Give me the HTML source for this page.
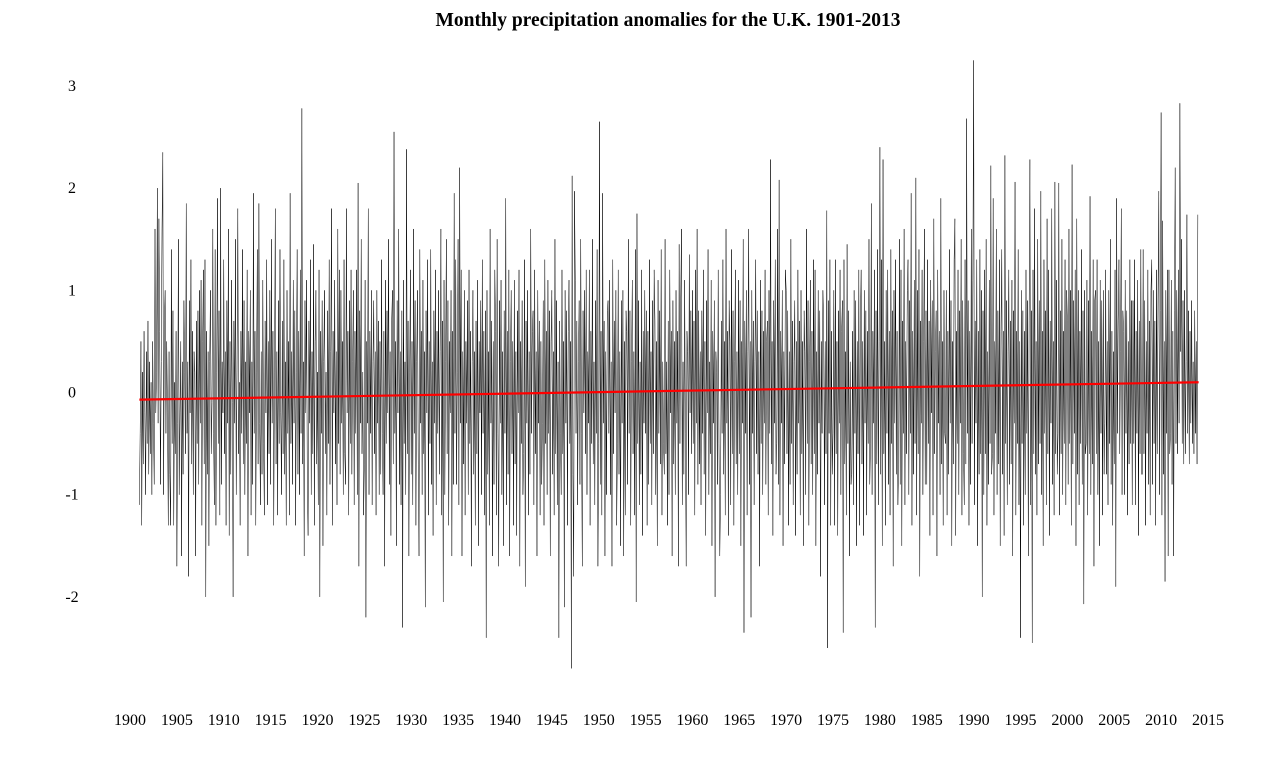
<!DOCTYPE html>
<html><head><meta charset="utf-8">
<style>
html,body{margin:0;padding:0;background:#fff;}
svg{display:block;font-family:"Liberation Serif",serif;}
</style></head>
<body>
<svg id="chart" width="1280" height="767" viewBox="0 0 1280 767" xmlns="http://www.w3.org/2000/svg">
<text x="668" y="26" text-anchor="middle" font-size="19.5" font-weight="bold">Monthly precipitation anomalies for the U.K. 1901-2013</text>
<g id="yaxis"></g>
<g id="xaxis"></g>
<path id="series" fill="none" stroke="#000" stroke-width="0.5"/>
<line id="trend" stroke="#f00" stroke-width="2.2"/>
</svg>
<script>
const startYear = 1901;
const yTicks = [-2,-1,0,1,2,3];
const xTicks = [1900,1905,1910,1915,1920,1925,1930,1935,1940,1945,1950,1955,1960,1965,1970,1975,1980,1985,1990,1995,2000,2005,2010,2015];
const trendYears = [1901, 2014];
const trendValues = [-0.07, 0.10];
const anomalies = [
-1.1,-0.4,0.5,-1.3,0.2,-0.7,0.6,-0.2,-1.0,0.4,-0.5,0.7,
-0.8,0.3,-0.6,0.1,-1.0,0.5,-0.3,-0.9,1.6,-0.2,0.2,2.0,
-0.3,1.7,0.6,-0.9,0.3,1.6,2.35,-1.0,0.7,1.0,-0.4,0.5,
-0.2,-1.3,0.4,-0.8,-1.3,1.4,-0.5,0.8,-1.3,0.1,-0.6,0.6,
-1.7,-0.3,1.5,-1.0,-0.2,0.5,-1.6,0.3,-0.8,0.9,0.2,-0.6,
1.85,-0.4,0.3,-1.8,0.9,-0.2,1.3,-0.7,0.6,-1.0,0.4,0.2,
-1.6,0.7,-0.5,0.8,-0.9,1.0,-0.3,1.1,-1.3,0.5,1.2,-0.7,
1.3,-2.0,0.6,-0.8,0.4,-1.5,0.3,1.0,-0.6,-0.1,1.6,-0.4,
-1.1,1.4,-1.3,0.2,1.9,-0.5,0.8,-1.2,2.0,-0.9,0.3,-0.2,
1.3,-0.6,0.4,-1.3,0.9,-0.3,1.6,-1.4,0.5,-0.8,1.1,-0.1,
-2.0,0.7,-0.3,1.5,-1.0,0.2,1.8,-0.6,0.1,-1.3,0.6,-0.4,
1.4,-0.7,0.9,-1.0,0.3,-0.5,1.2,-1.6,0.6,-0.2,1.0,-1.2,
0.3,-0.9,1.95,-0.4,0.6,-1.3,0.2,1.4,-0.7,1.85,-0.3,-1.1,
0.4,-0.8,1.1,-0.5,-1.2,0.7,-0.2,1.3,-1.1,0.5,-0.6,1.0,
-0.9,1.5,-0.3,0.6,-1.3,0.2,1.8,-0.7,0.4,-1.2,0.9,-0.5,
1.4,-0.2,-1.0,0.7,-0.6,1.3,-0.8,0.3,-1.3,1.0,-0.4,0.5,
-1.2,1.95,-0.5,0.4,-0.9,1.1,-0.3,0.8,-1.3,0.2,1.4,-0.8,
0.6,-1.0,1.2,-0.4,2.78,-0.7,0.3,-1.6,0.9,-0.2,1.1,-0.9,
-1.4,0.7,-0.3,1.3,-1.0,0.4,-0.6,1.45,-1.3,0.5,1.0,-0.7,
0.2,-1.1,1.2,-2.0,0.6,-0.4,0.9,-1.5,0.3,1.0,-0.6,0.2,
-1.2,0.8,-0.5,1.3,-0.9,0.4,1.8,-1.3,0.6,-0.2,1.1,-0.7,
0.4,-1.1,1.6,-0.5,1.2,-0.8,1.0,-0.3,0.5,-1.0,1.3,-0.6,
-0.9,1.8,-0.2,0.6,-1.2,0.9,-0.5,1.2,-0.8,0.3,1.0,-1.1,
0.6,-0.4,1.2,-1.0,2.05,-1.7,0.8,-0.3,1.5,-0.6,0.2,-1.2,
-0.7,1.1,-2.2,0.5,-0.3,1.8,-1.0,0.6,-0.4,1.0,-1.1,0.3,
0.9,-0.6,0.4,-1.2,1.0,-0.3,0.7,-1.0,0.5,-0.8,1.3,-0.4,
-1.0,0.6,-1.7,1.1,-0.5,0.8,-0.2,1.5,-0.9,0.4,-1.4,0.7,
1.0,-0.7,2.55,-0.4,0.5,-1.5,0.9,-0.2,1.6,-0.9,0.4,-1.1,
0.8,-2.3,1.1,-0.5,0.3,-1.0,2.38,-0.6,0.7,-1.6,0.2,1.2,
-0.8,0.5,-1.1,1.6,-0.4,0.9,-1.3,0.3,1.0,-0.7,-1.6,1.4,
-0.3,0.6,-1.0,1.1,-0.6,0.4,-2.1,0.8,-0.2,1.3,-1.2,0.5,
-0.5,1.4,-0.9,0.3,-1.4,0.8,-0.3,1.2,-1.1,0.6,-0.4,1.0,
-0.8,0.4,1.6,-1.2,0.7,-2.05,1.1,-1.0,0.3,1.5,-0.6,0.9,
-1.3,0.5,-0.2,1.0,-1.6,0.6,-0.9,1.95,-0.4,1.3,-0.9,0.2,
1.5,-1.1,2.2,-0.3,1.2,-1.6,0.4,-0.7,1.0,-1.2,0.5,-0.3,
0.9,-1.0,1.2,-0.5,0.6,-1.7,0.3,1.0,-0.8,0.4,-1.3,0.7,
-0.6,1.1,-1.5,0.5,-0.2,0.9,-1.0,1.3,-0.4,0.6,-1.2,0.8,
-2.4,1.0,-0.8,0.4,-1.3,1.6,-0.3,0.7,-1.6,0.5,-0.9,1.2,
0.6,-1.2,1.5,-0.4,-1.7,0.9,-0.3,1.1,-1.0,0.4,-1.5,0.8,
-0.4,1.9,-1.1,0.6,-0.8,1.2,-1.6,0.3,1.0,-0.6,0.5,-1.3,
1.1,-0.7,0.4,-1.4,0.8,-0.2,1.2,-1.7,0.5,-0.5,0.9,-1.0,
-0.6,1.3,-1.9,0.7,-0.3,1.0,-1.2,0.4,-0.8,1.6,-0.4,0.6,
0.8,-1.1,1.2,-0.6,0.4,-1.6,1.0,-0.3,0.7,-1.2,0.5,-0.9,
-0.3,0.9,-1.3,1.3,-0.5,0.6,-1.0,1.1,-0.4,0.8,-1.6,0.5,
1.0,-0.8,0.4,-1.2,1.5,-0.6,0.9,-1.1,0.3,-2.4,0.7,-0.4,
-1.0,1.2,-0.6,0.5,-2.1,1.0,-0.3,0.8,-1.3,0.6,1.1,-0.5,
0.5,-2.7,2.12,-0.8,-1.8,1.97,1.1,-0.4,0.7,-1.1,0.3,0.9,
-0.9,1.5,-0.4,-1.7,0.8,-0.2,1.0,-0.6,1.2,-1.0,0.4,-0.3,
1.2,-1.3,0.6,-0.5,1.5,-0.7,0.3,-1.1,0.9,-0.4,1.4,-1.7,
-0.5,2.65,-0.9,0.6,-1.2,1.95,-0.3,0.7,-1.6,0.4,-1.0,0.8,
0.9,-0.4,1.1,-1.0,0.3,-1.7,1.3,-0.6,0.7,-0.2,1.0,-1.3,
-0.5,1.2,-0.8,0.4,-1.5,0.9,-0.3,1.0,-1.6,0.5,-1.2,0.8,
0.6,-0.9,1.5,-0.4,0.8,-1.3,0.3,1.1,-0.6,0.4,-1.2,1.4,
-2.05,1.75,-0.5,0.9,-1.1,0.3,-0.8,1.2,-1.4,0.6,-0.3,1.0,
-0.4,0.8,-1.3,0.6,-0.9,1.3,-0.5,0.4,-1.1,0.9,-0.6,1.2,
0.7,-1.0,0.5,-1.5,1.1,-0.4,0.8,-0.7,1.4,-1.2,0.3,-0.5,
-0.8,1.5,-0.6,0.3,-1.3,0.7,-1.0,1.2,-0.2,0.6,-1.6,0.9,
-0.7,0.5,-1.0,1.0,-0.3,0.6,-1.7,1.45,-0.5,0.9,1.6,-1.1,
0.3,-0.8,1.1,-0.4,-1.7,0.6,0.4,-1.0,1.35,-0.2,0.8,-0.6,
1.0,-0.5,0.7,-1.2,1.2,-0.3,1.6,-0.9,0.8,-0.7,0.4,-1.1,
0.8,-0.4,1.2,-0.8,0.5,-1.4,0.9,-0.2,1.4,-1.0,0.3,-0.6,
1.1,-1.5,0.6,-0.3,0.9,-2.0,0.4,0.2,-0.9,1.2,-0.5,-1.6,
-1.0,0.7,-0.4,1.3,-0.8,0.5,-1.2,1.6,-0.3,0.6,-1.4,0.9,
0.5,-1.1,1.4,-0.6,0.8,-1.3,0.3,1.2,-0.7,0.4,-1.0,1.1,
-0.6,0.9,-1.5,0.5,-0.3,1.5,-2.35,0.7,-0.4,1.0,-1.2,0.4,
1.6,-0.9,0.5,-2.2,1.0,-0.4,0.7,-1.1,0.3,1.3,-0.6,0.8,
-0.8,0.4,-1.7,1.1,-0.5,0.8,-1.0,0.6,-0.3,1.2,-0.9,0.5,
0.7,-1.2,1.0,-0.4,2.28,-0.7,0.5,-1.4,0.9,-0.3,1.3,-0.8,
-0.5,1.6,-0.9,2.08,-1.2,0.6,-0.3,1.0,-1.5,0.4,-0.7,1.2,
1.0,-0.6,0.8,-1.3,0.4,-0.9,1.5,-0.5,0.7,-1.1,0.3,0.9,
-1.4,0.5,-0.8,1.2,-0.3,0.7,-1.2,1.0,-0.6,0.5,-1.5,0.8,
0.4,-1.0,1.6,-0.5,0.9,-1.3,0.3,1.1,-0.7,0.6,-1.0,1.3,
-0.6,1.2,-1.5,0.4,-0.8,1.0,-0.3,0.8,-1.8,0.5,-0.4,1.0,
0.7,-1.1,0.5,-0.6,1.78,-2.5,0.9,-0.4,1.3,-1.3,0.6,-0.8,
-0.4,1.0,-1.3,1.3,-0.6,0.5,-1.4,0.8,-0.3,1.2,-1.0,0.6,
0.9,-2.35,1.3,-0.7,0.4,-1.2,1.45,-0.5,0.8,-1.6,0.3,-0.9,
-0.8,0.6,-1.1,1.0,-0.4,0.9,-1.5,0.5,-0.6,1.2,-1.3,0.7,
1.2,-0.7,0.5,-1.4,1.0,-0.3,0.8,-1.2,0.6,-0.5,1.5,-0.9,
-0.5,1.85,-1.0,0.6,-0.3,1.2,-2.3,0.8,-0.7,1.4,-1.1,0.5,
2.4,-0.8,1.3,-1.5,2.28,-0.6,0.5,-1.3,1.0,-0.4,1.2,-0.9,
0.6,-1.2,1.4,-0.5,0.8,-1.7,1.0,-0.3,1.3,-0.8,0.6,-1.1,
-0.7,1.5,-0.9,1.2,-1.5,0.7,-0.4,1.6,-1.1,0.5,-0.6,1.0,
1.3,-1.0,0.9,-0.4,1.95,-1.3,0.6,-0.8,1.1,-0.5,2.1,-1.2,
1.0,-0.6,1.4,-1.8,0.7,-0.3,1.2,-1.0,0.5,1.6,-0.9,0.8,
-0.9,1.3,-0.5,0.7,-1.4,1.1,-0.2,0.9,-1.2,1.7,-0.6,0.4,
0.8,-1.6,1.2,-0.3,0.6,-1.0,1.9,-0.7,0.5,-1.3,1.0,-0.4,
-0.5,1.0,-1.2,0.6,-0.8,1.4,-0.3,0.9,-1.5,0.5,-0.7,1.3,
1.7,-1.4,0.6,-0.5,1.2,-1.0,0.8,-0.3,1.5,-1.2,0.9,-0.6,
-1.1,1.3,-0.7,2.68,-0.4,0.9,-1.3,0.6,-0.9,1.6,-0.5,1.1,
3.25,-1.1,0.7,-0.3,1.3,-1.5,0.6,-0.8,1.4,-0.6,1.0,-2.0,
0.8,-1.0,1.2,-0.6,1.5,-1.3,0.4,-0.9,1.1,-0.5,2.22,-0.8,
-0.6,1.9,-1.2,0.5,-0.4,1.6,-1.0,0.8,-0.7,1.3,-1.5,0.6,
1.4,-0.8,0.6,-1.4,2.32,-0.5,0.9,-1.1,0.4,1.2,-0.9,0.7,
-0.7,1.1,-1.6,0.8,-0.3,2.06,-1.2,0.6,-0.5,1.4,-1.1,0.5,
-2.4,1.0,-0.5,0.8,-1.3,0.6,-1.0,1.2,-0.4,0.9,-1.6,0.7,
2.28,-1.1,0.8,-2.45,1.2,-0.6,1.8,-0.8,0.5,-1.2,1.5,-0.7,
0.9,-0.5,1.97,-1.0,0.6,-1.5,1.3,-0.4,0.8,-1.1,1.7,-0.6,
1.2,-1.4,0.7,-0.3,1.8,-0.9,0.5,-1.2,2.06,-0.6,1.1,-0.8,
-0.4,2.05,-1.2,0.8,-0.6,1.5,-1.0,0.6,-0.5,1.3,-1.1,1.0,
0.7,-0.9,1.6,-0.5,1.0,-1.3,2.23,-0.7,0.9,-0.4,1.2,-1.5,
1.7,-0.8,1.0,-1.1,0.6,-0.5,1.4,-0.9,0.8,-2.07,1.0,-0.6,
-0.5,1.1,-1.2,0.9,-0.6,1.92,-1.0,0.6,-0.7,1.3,-1.7,0.9,
1.0,-0.6,1.3,-1.0,0.5,-1.5,1.1,-0.4,0.9,-1.2,1.0,-0.8,
-0.3,1.2,-0.8,0.5,-1.1,1.0,-0.5,1.5,-0.9,0.6,-1.3,0.4,
-0.7,1.2,-1.9,1.9,-0.4,0.7,1.3,-0.6,0.4,1.8,-1.0,0.8,
0.6,-1.0,1.1,-0.4,0.8,-1.2,0.5,-0.7,1.3,-0.5,0.9,-1.1,
0.9,-0.5,1.3,-1.1,0.6,-0.4,1.1,-1.4,0.7,-0.6,1.4,-0.8,
-0.8,1.4,-0.6,0.9,-1.3,0.5,-0.4,1.2,-0.9,0.7,-1.2,1.0,
1.3,-0.9,1.0,-0.5,0.7,-1.3,1.2,-0.6,0.9,1.97,-1.0,0.8,
2.74,-1.2,1.68,-0.8,0.5,-1.85,1.0,-0.4,1.2,-1.6,1.2,-0.6,
-0.4,1.1,-0.9,0.6,-1.6,0.8,2.2,-0.5,1.0,-0.6,1.2,-0.3,
2.83,0.4,1.5,-0.5,0.9,-0.7,1.0,-0.6,0.3,1.74,-0.4,0.8,
-0.7,0.6,-0.3,0.9,-0.5,0.3,-0.6,0.8,-0.4,0.5,-0.7,1.74
];
const X0 = 130, X1 = 1208, Y0 = 392.5, YU = 102.2;
function xScale(year){ return X0 + (year - 1900) * (X1 - X0) / 115; }
function yScale(v){ return Y0 - v * YU; }
const NS = 'http://www.w3.org/2000/svg';
const yg = document.getElementById('yaxis');
yTicks.forEach(t => {
  const el = document.createElementNS(NS,'text');
  
  
  el.setAttribute('x', 72); el.setAttribute('y', yScale(t) + 5);
  el.setAttribute('text-anchor','middle'); el.setAttribute('font-size','16');
  el.textContent = t; yg.appendChild(el);
});
const xg = document.getElementById('xaxis');
xTicks.forEach(t => {
  const el = document.createElementNS(NS,'text');
  
  
  el.setAttribute('x', xScale(t)); el.setAttribute('y', 725);
  el.setAttribute('text-anchor','middle'); el.setAttribute('font-size','16');
  el.textContent = t; xg.appendChild(el);
});
let d = '';
anomalies.forEach((v,i) => {
  const yr = startYear + i / 12;
  d += (i ? 'L' : 'M') + xScale(yr).toFixed(2) + ',' + yScale(v).toFixed(2);
});
document.getElementById('series').setAttribute('d', d);
const tr = document.getElementById('trend');
tr.setAttribute('x1', xScale(trendYears[0])); tr.setAttribute('y1', yScale(trendValues[0]));
tr.setAttribute('x2', xScale(trendYears[1])); tr.setAttribute('y2', yScale(trendValues[1]));
</script>
</body></html>
